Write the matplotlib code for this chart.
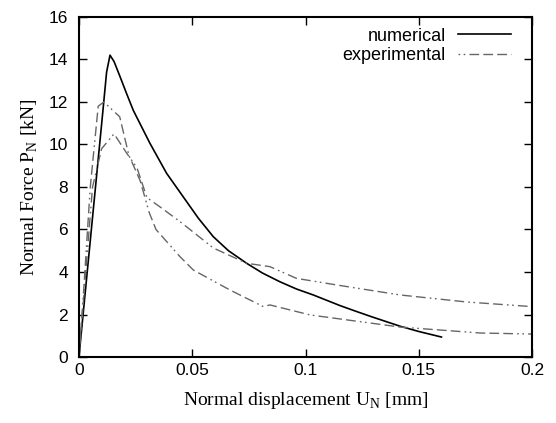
import numpy as np
import matplotlib
matplotlib.use("Agg")
import matplotlib.pyplot as plt

# numerical curve (solid black)
num_x = [0.0, 0.0105, 0.0122, 0.0137, 0.0155, 0.0181, 0.021, 0.024, 0.0313,
         0.0387, 0.046, 0.0527, 0.0593, 0.066, 0.074, 0.081, 0.0887, 0.096,
         0.1034, 0.1152, 0.122, 0.129, 0.1417, 0.150, 0.160]
num_y = [0.0, 11.5, 13.4, 14.2, 13.9, 13.2, 12.4, 11.6, 10.06,
         8.64, 7.54, 6.53, 5.66, 5.0, 4.41, 3.95, 3.54, 3.2,
         2.92, 2.42, 2.16, 1.9, 1.45, 1.2, 0.94]

# experimental curve 1 (peak ~12)
exp1_x = [0.0, 0.002, 0.005, 0.0085, 0.011, 0.018, 0.022, 0.027, 0.031, 0.034,
          0.0446, 0.0505, 0.0667, 0.0814, 0.0843, 0.102, 0.1417, 0.177, 0.2]
exp1_y = [0.0, 3.0, 8.0, 11.8, 12.0, 11.3, 9.5, 8.3, 6.8, 6.0,
          4.72, 4.09, 3.15, 2.37, 2.45, 1.98, 1.41, 1.13, 1.08]

# experimental curve 2 (peak ~10.5)
exp2_x = [0.0, 0.003, 0.006, 0.010, 0.0155, 0.021, 0.0256, 0.030, 0.0358, 0.0446,
          0.0593, 0.074, 0.0843, 0.096, 0.1137, 0.1417, 0.171, 0.2]
exp2_y = [0.0, 4.0, 8.0, 9.8, 10.5, 9.6, 8.9, 7.5, 7.06, 6.37,
          5.13, 4.41, 4.25, 3.7, 3.39, 2.92, 2.59, 2.37]

x_ticks = [0, 0.05, 0.1, 0.15, 0.2]
x_labels = ["0", "0.05", "0.1", "0.15", "0.2"]
y_ticks = [0, 2, 4, 6, 8, 10, 12, 14, 16]

plt.rcParams["font.family"] = ["Liberation Sans", "DejaVu Sans"]
plt.rcParams["mathtext.fontset"] = "custom"
plt.rcParams["mathtext.rm"] = "Liberation Serif"

fig = plt.figure(figsize=(5.56, 4.23), dpi=100)
ax = fig.add_axes([0.142, 0.156, 0.815, 0.804])

ax.plot(num_x, num_y, color="black", lw=1.2, label="numerical")
ax.plot(exp1_x, exp1_y, color="#666666", lw=1.0,
        linestyle=(0, (1.2, 2.5, 1.2, 3, 7, 3, 7, 3, 7, 3)), label="experimental")
ax.plot(exp2_x, exp2_y, color="#666666", lw=1.0,
        linestyle=(0, (7, 3, 7, 3, 1.2, 2.5, 1.2, 3)))

ax.set_xlim(0, 0.2)
ax.set_ylim(0, 16)
ax.set_xticks(x_ticks)
ax.set_xticklabels(x_labels)
ax.set_yticks(y_ticks)
ax.tick_params(direction="in", top=True, right=True, length=6, width=1,
               labelsize=12.5)
ax.tick_params(axis="x", pad=4)
ax.tick_params(axis="y", pad=8)
for s in ax.spines.values():
    s.set_linewidth(1.5)

ax.set_xlabel(r"Normal displacement U$_{\rm N}$ [mm]", family="Liberation Serif",
              fontsize=14, labelpad=9)
ax.set_ylabel(r"Normal Force P$_{\rm N}$ [kN]", family="Liberation Serif",
              fontsize=14, labelpad=6)

ax.legend(loc="upper right", bbox_to_anchor=(0.969, 0.99), frameon=False,
          markerfirst=False, fontsize=13, handlelength=2.9, handletextpad=0.7,
          labelspacing=0.15, borderaxespad=0)

fig.savefig("out.png", dpi=100)
